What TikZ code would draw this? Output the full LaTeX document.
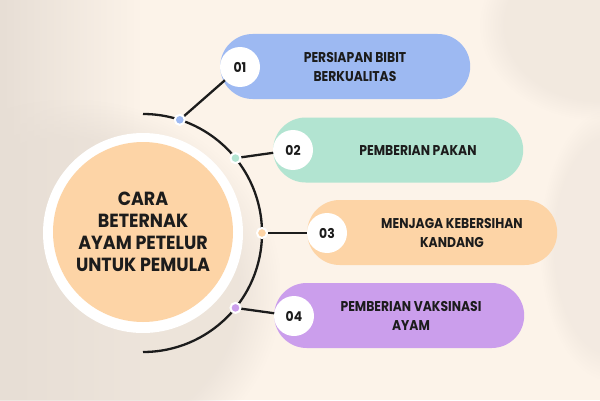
\documentclass[tikz,border=0pt]{standalone}
\usepackage{fontspec}
\setmainfont{Poppins}
\newfontfamily\titlefont{Poppins}[FakeStretch=0.92]
\newfontfamily\pillfont{Poppins}[FakeStretch=0.87]
\newfontfamily\numfont{Poppins}[FakeStretch=0.92]
\usetikzlibrary{fadings}
\definecolor{bgl}{HTML}{FCF3E9}
\definecolor{bgd}{HTML}{E7DED5}
\definecolor{cblue}{HTML}{9DB9F2}
\definecolor{cmint}{HTML}{B2E4D1}
\definecolor{cpeach}{HTML}{FDD4A6}
\definecolor{cpurple}{HTML}{CB9EEC}
\definecolor{ink}{HTML}{1C1C1C}
\pgfdeclarelayer{bg}
\pgfdeclarelayer{pills}
\pgfdeclarelayer{lines}
\pgfsetlayers{bg,pills,lines,main}
\tikzset{
  pill/.style={rectangle, rounded corners=32.5pt, minimum width=250pt, minimum height=65pt, inner sep=0pt, anchor=west},
  numc/.style={circle, fill=white, minimum size=40pt, inner sep=0pt, text=ink, font=\numfont\bfseries\fontsize{13.5}{14}\selectfont},
  dotc/.style={circle, draw=white, line width=2pt, minimum size=10pt, inner sep=0pt},
  conn/.style={draw=ink, line width=2.3pt},
  ptext/.style={align=center, text=ink, font=\pillfont\bfseries\fontsize{14.2}{19}\selectfont, inner sep=0pt},
}
\begin{document}
\begin{tikzpicture}[x=1pt,y=1pt]
\useasboundingbox (0,0) rectangle (600,400);
\begin{pgfonlayer}{bg}
  \fill[bgl] (0,0) rectangle (600,400);
  \fill[bgd, path fading=east] (0,0) rectangle (140,400);
  \fill[bgd, opacity=0.7, path fading=circle with fuzzy edge 20 percent] (-140,-80) rectangle (280,300);
  \fill[bgd, opacity=0.45, path fading=circle with fuzzy edge 20 percent] (480,280) rectangle (720,470);
  \fill[bgd, opacity=0.4, path fading=circle with fuzzy edge 20 percent] (540,20) rectangle (680,290);
\end{pgfonlayer}
% centre
\node[circle, fill=white, minimum size=200pt, inner sep=0pt] (ring) at (143,167) {};
\node[circle, fill=cpeach, minimum size=180pt, inner sep=0pt, align=center, text=ink,
      font=\titlefont\bfseries\fontsize{19}{22}\selectfont] (core) at (143,168) {CARA\\BETERNAK\\AYAM PETELUR\\UNTUK PEMULA};
\coordinate (C) at (143,167);
\coordinate (arcS) at (143,286);
% dots
\path (C) ++(72:119pt) node[dotc, fill=cblue] (d1) {};
\path (C) ++(39:119pt) node[dotc, fill=cmint] (d2) {};
\path (C) ++(0:119pt) node[dotc, fill=cpeach] (d3) {};
\path (C) ++(-39:119pt) node[dotc, fill=cpurple] (d4) {};
% pills
\begin{pgfonlayer}{pills}
  \node[pill, fill=cblue] (p1) at (220,333.5) {};
  \node[pill, fill=cmint] (p2) at (273,250) {};
  \node[pill, fill=cpeach] (p3) at (307,167.5) {};
  \node[pill, fill=cpurple] (p4) at (274,84.5) {};
\end{pgfonlayer}
% number circles
\node[numc] (n1) at (240,333) {01};
\node[numc] (n2) at (293,250) {02};
\node[numc] (n3) at (327,167) {03};
\node[numc] (n4) at (294,84) {04};
% texts
\node[ptext] (t1) at (355,333) {PERSIAPAN BIBIT\\BERKUALITAS};
\node[ptext] (t2) at (418,249.5) {PEMBERIAN PAKAN};
\node[ptext] (t3) at (452,167.5) {MENJAGA KEBERSIHAN\\KANDANG};
\node[ptext] (t4) at (411,84) {PEMBERIAN VAKSINASI\\AYAM};
% arc and connectors
\begin{pgfonlayer}{lines}
  \draw[conn] (arcS) arc[start angle=90, end angle=-90, radius=119pt];
  \draw[conn] (d1.center) -- (n1.center);
  \draw[conn] (d2.center) -- (n2.center);
  \draw[conn] (d3.center) -- (n3.center);
  \draw[conn] (d4.center) -- (n4.center);
\end{pgfonlayer}
\end{tikzpicture}
\end{document}
